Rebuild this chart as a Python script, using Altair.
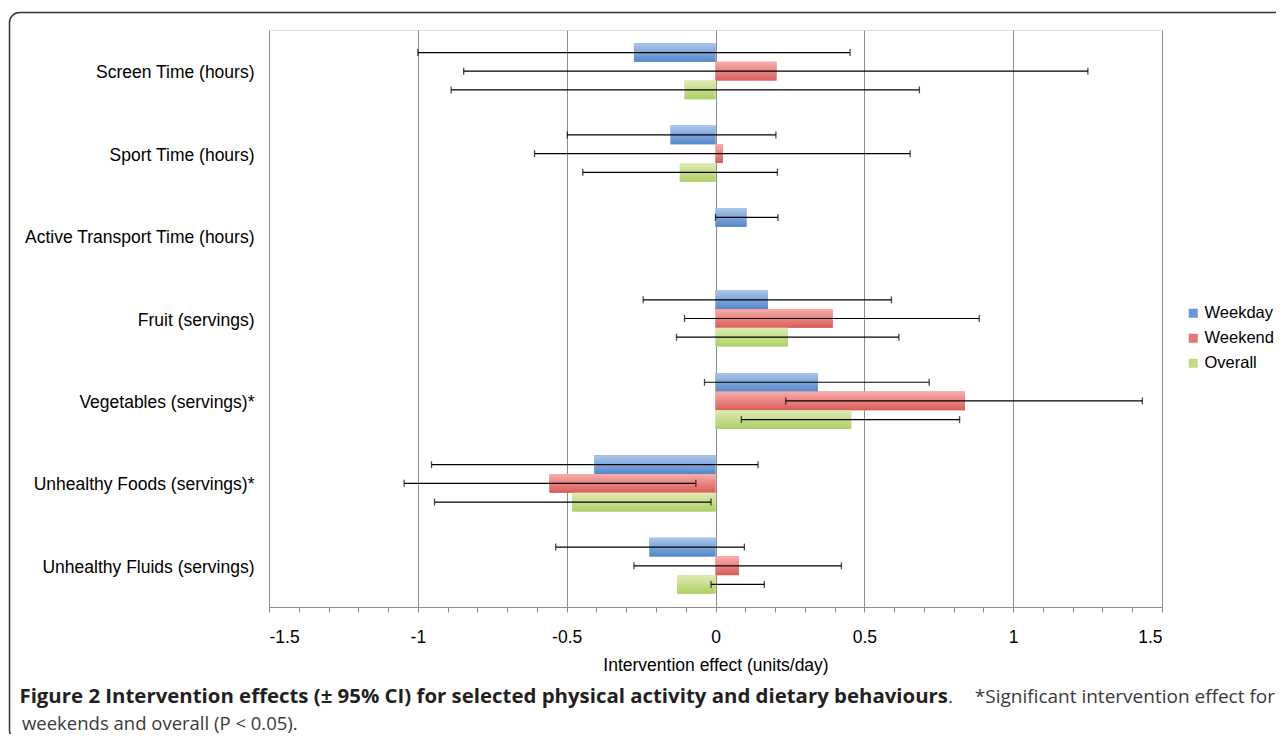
import altair as alt
import pandas as pd

categories = ["Screen Time (hours)", "Sport Time (hours)", "Active Transport Time (hours)",
              "Fruit (servings)", "Vegetables (servings)*", "Unhealthy Foods (servings)*",
              "Unhealthy Fluids (servings)"]
series_names = ["Weekday", "Weekend", "Overall"]

weekday = [-0.274, -0.151, 0.104, 0.176, 0.344, -0.407, -0.222]
weekday_lo = [-1.0, -0.498, 0.0, -0.243, -0.037, -0.954, -0.537]
weekday_hi = [0.452, 0.203, 0.21, 0.591, 0.718, 0.143, 0.097]

weekend = [0.205, 0.025, None, 0.394, 0.838, -0.558, 0.079]
weekend_lo = [-0.846, -0.608, None, -0.104, 0.236, -1.046, -0.274]
weekend_hi = [1.251, 0.654, None, 0.886, 1.434, -0.066, 0.423]

overall = [-0.104, -0.120, None, 0.243, 0.456, -0.481, -0.129]
overall_lo = [-0.888, -0.446, None, -0.131, 0.087, -0.944, -0.015]
overall_hi = [0.685, 0.208, None, 0.616, 0.820, -0.015, 0.164]

x_ticks = [round(-1.5 + 0.1 * i, 1) for i in range(31)]

flat_colors = ["#6A98D4", "#E27774", "#C0DA86"]
grad_colors = [("#ABC6EA", "#5486C9"), ("#F8ADAB", "#DA5C58"), ("#E0EBB4", "#AECF66")]

rows = []
for name, vals, los, his in [("Weekday", weekday, weekday_lo, weekday_hi),
                             ("Weekend", weekend, weekend_lo, weekend_hi),
                             ("Overall", overall, overall_lo, overall_hi)]:
    for c, v, lo, hi in zip(categories, vals, los, his):
        if v is None:
            continue
        rows.append({"cat": c, "series": name, "value": v, "lo": lo, "hi": hi})
df = pd.DataFrame(rows)

FONT = "Liberation Sans"

y_enc = alt.Y("cat:N", sort=categories, title=None,
              scale=alt.Scale(paddingInner=0.32, paddingOuter=0.16),
              axis=alt.Axis(domain=False, ticks=False, grid=False, labelFontSize=17.5,
                            labelFont=FONT, labelColor="black", labelPadding=15,
                            labelOffset=2, labelLimit=400))
yoff_enc = alt.YOffset("series:N", sort=series_names,
                       scale=alt.Scale(domain=series_names, paddingInner=0, paddingOuter=0))

half_test = "abs(datum.value*2 - round(datum.value*2)) < 0.001"
x_axis = alt.Axis(values=x_ticks, tickCount=40, grid=True, gridColor="#8c8c8c", gridWidth=1,
                  gridOpacity={"condition": {"test": half_test, "value": 1}, "value": 0},
                  domainColor="#8c8c8c", tickColor="#8c8c8c", tickSize=5,
                  labelOverlap=False,
                  labelExpr=f"{half_test} ? toString(datum.value) : ''",
                  labelFont=FONT, labelFontSize=17.5, labelColor="black", labelPadding=16,
                  title="Intervention effect (units/day)", titleFont=FONT, titleFontSize=17.5,
                  titleFontWeight="normal", titleColor="black", titlePadding=11)
x_scale = alt.Scale(domain=[-1.5, 1.5], nice=False, zero=False)

base = alt.Chart(df)

bars_legend = base.mark_bar().encode(
    x=alt.X("value:Q", scale=x_scale, axis=x_axis),
    x2=alt.datum(0),
    y=y_enc,
    yOffset=yoff_enc,
    color=alt.Color("series:N", sort=series_names,
                    scale=alt.Scale(domain=series_names, range=flat_colors),
                    legend=alt.Legend(orient="none", legendX=916, legendY=275, title=None,
                                      symbolType="square", symbolSize=81,
                                      symbolStrokeWidth=0, labelFontSize=16.5,
                                      labelFont=FONT, labelColor="black",
                                      rowPadding=8, labelOffset=3, padding=0)),
)

grad_layers = []
for name, (top, bot) in zip(series_names, grad_colors):
    grad = alt.LinearGradient(gradient="linear",
                              stops=[alt.GradientStop(color=top, offset=0),
                                     alt.GradientStop(color=bot, offset=1)],
                              x1=0, x2=0, y1=0, y2=1)
    grad_layers.append(
        base.transform_filter(alt.datum.series == name).mark_bar(color=grad).encode(
            x=alt.X("value:Q"), x2=alt.datum(0), y=alt.Y("cat:N", sort=categories),
            yOffset=yoff_enc)
    )

err = base.mark_rule(color="black", strokeWidth=1.2).encode(
    x="lo:Q", x2="hi:Q", y=alt.Y("cat:N", sort=categories), yOffset=yoff_enc)
cap_lo = base.mark_tick(color="black", thickness=1.3, size=7).encode(
    x="lo:Q", y=alt.Y("cat:N", sort=categories), yOffset=yoff_enc)
cap_hi = base.mark_tick(color="black", thickness=1.3, size=7).encode(
    x="hi:Q", y=alt.Y("cat:N", sort=categories), yOffset=yoff_enc)

one = pd.DataFrame({"k": [0]})
frame = alt.Chart(one).mark_rect(fill="transparent", stroke="#333333", strokeWidth=1.5,
                                 cornerRadius=10).encode(
    x=alt.value(-259.5), x2=alt.value(1040), y=alt.value(-17.5), y2=alt.value(710))

cap_bold = alt.Chart(one).mark_text(
    text="Figure 2 Intervention effects (\u00b1 95% CI) for selected physical activity and dietary behaviours",
    font="Open Sans", fontWeight="bold", fontSize=20.4, align="right", baseline="middle",
    color="#231f20").encode(x=alt.value(679), y=alt.value(667))
cap_dot = alt.Chart(one).mark_text(
    text=".", font="Open Sans", fontSize=19, align="left", baseline="middle",
    color="#3a3a3a").encode(x=alt.value(679), y=alt.value(667))
cap_rest = alt.Chart(one).mark_text(
    text="*Significant intervention effect for", font="Open Sans", fontSize=19,
    align="right", baseline="middle", color="#3a3a3a").encode(x=alt.value(1006), y=alt.value(667))
cap_line2 = alt.Chart(one).mark_text(
    text="weekends and overall (P < 0.05).", font="Open Sans", fontSize=18.5,
    align="left", baseline="middle", color="#3a3a3a").encode(x=alt.value(-247), y=alt.value(693.5))

chart = alt.layer(bars_legend, *grad_layers, err, cap_lo, cap_hi,
                  frame, cap_bold, cap_dot, cap_rest, cap_line2).properties(
    width=893, height=577,
    autosize=alt.AutoSizeParams(type="none"),
    padding={"left": 261, "top": 22, "right": 114, "bottom": 127},
).configure_view(stroke=None).configure(background="white")

chart.save("out.html", embed_options={"renderer": "svg", "actions": False})
